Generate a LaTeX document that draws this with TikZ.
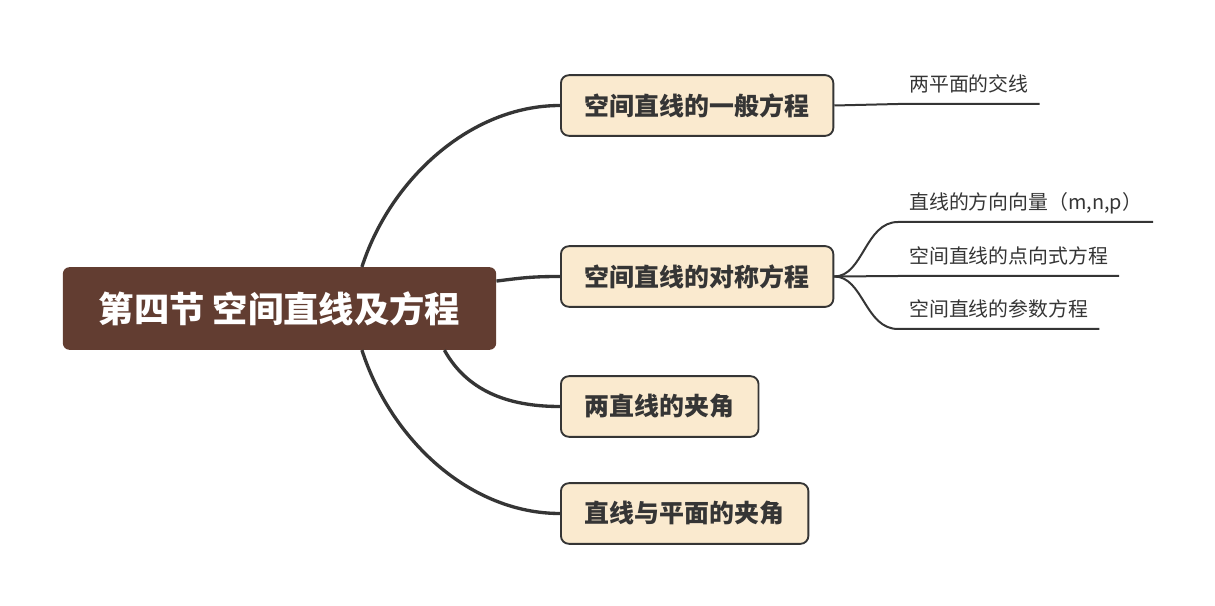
\documentclass[tikz,border=0pt]{standalone}
\usepackage{fontspec}
\setmainfont{Noto Sans CJK SC}
\usepackage{tikz}
\usetikzlibrary{calc}
\definecolor{root-brown}{HTML}{623D31}
\definecolor{topic-cream}{HTML}{FAEACF}
\definecolor{line-gray}{HTML}{353535}

\begin{document}
\begin{tikzpicture}[x=0.75pt, y=0.75pt,
  rootbox/.style={rectangle, fill=root-brown, rounded corners=5pt, text=white,
                  minimum width=325pt, minimum height=62pt, inner sep=0pt,
                  font=\bfseries\fontsize{26.5}{30}\selectfont},
  topic/.style={rectangle, draw=line-gray, line width=1.4pt, fill=topic-cream,
                rounded corners=6pt, minimum height=45.5pt, inner xsep=18pt,
                anchor=west, text=line-gray, font=\bfseries\fontsize{18.7}{22}\selectfont},
  leaf/.style={rectangle, anchor=south west, inner xsep=8.25pt, inner ysep=9.5pt,
               text depth=0pt, text=line-gray, font=\fontsize{14.9}{17}\selectfont},
  trunk/.style={line-gray, line width=2.5pt},
  twig/.style={line-gray, line width=1.5pt}
]
  \useasboundingbox (0,0) rectangle (1215,-606);

  % Root
  \node[rootbox] (root) at (279.5,-308.5) {第四节 空间直线及方程};

  % Main topics
  \node[topic] (t1) at (560,-105.5) {空间直线的一般方程};
  \node[topic] (t2) at (560,-276.5) {空间直线的对称方程};
  \node[topic] (t3) at (560,-406.5) {两直线的夹角};
  \node[topic] (t4) at (560,-513.5) {直线与平面的夹角};

  % Leaves
  \node[leaf] (l1) at (898,-104) {两平面的交线};
  \node[leaf] (l2) at (898,-222) {直线的方向向量（m,n,p）};
  \node[leaf] (l3) at (898,-276) {空间直线的点向式方程};
  \node[leaf] (l4) at (898,-329) {空间直线的参数方程};

  % Root -> topics
  \draw[trunk] ($(root.north west)!0.69!(root.north east)$)
      .. controls +(28,87) and +(-90,0) .. (t1.west);
  \draw[trunk] ($(root.north east)!0.17!(root.south east)$)
      .. controls +(25,3) and +(-30,0) .. (t2.west);
  \draw[trunk] ($(root.south west)!0.88!(root.south east)$)
      .. controls +(25,-45) and +(-45,0) .. (t3.west);
  \draw[trunk] ($(root.south west)!0.69!(root.south east)$)
      .. controls +(29,-90) and +(-90,0) .. (t4.west);

  % Topics -> leaves (with underline)
  \draw[twig] (t1.east) -- (l1.south west) -- (l1.south east);
  \draw[twig] (t2.east) .. controls +(29,0) and +(-33,0) .. (l2.south west) -- (l2.south east);
  \draw[twig] (t2.east) -- (l3.south west) -- (l3.south east);
  \draw[twig] (t2.east) .. controls +(29,0) and +(-33,0) .. (l4.south west) -- (l4.south east);
\end{tikzpicture}
\end{document}
